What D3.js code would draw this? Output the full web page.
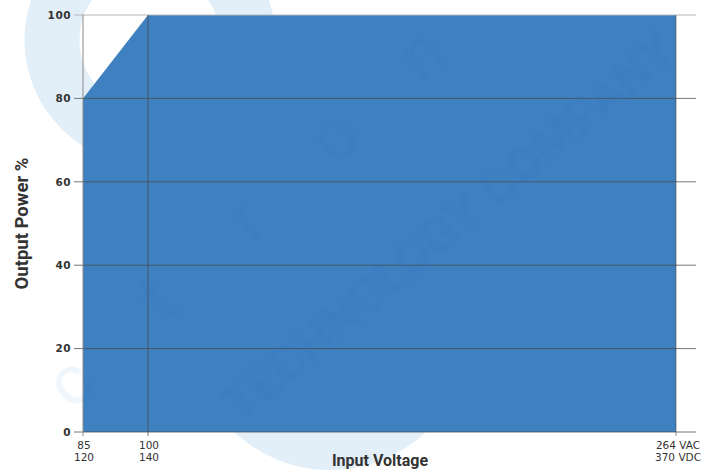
<!DOCTYPE html>
<html>
<head>
<meta charset="utf-8">
<script src="https://cdn.jsdelivr.net/npm/d3@7"></script>
<style>
  body { margin: 0; background: #fff; }
  svg { display: block; }
  .axis text { font-family: "DejaVu Sans", sans-serif; fill: #333; }
</style>
</head>
<body>
<div id="chart"></div>
<script>
// derating curve data
const voltages = [85, 100, 264];
const power = [80, 100, 100];
const yTicks = [0, 20, 40, 60, 80, 100];
const xTickLabels = [["85", "120"], ["100", "140"], ["264 VAC", "370 VDC"]];

const width = 715, height = 472;
const margin = { left: 83, top: 15, right: 39, bottom: 40 };
const plotRight = 676;

const svg = d3.select("#chart").append("svg")
  .attr("width", width)
  .attr("height", height);

// x is not linear in the source, piecewise domain
const x = d3.scaleLinear()
  .domain(voltages)
  .range([margin.left, 148, plotRight]);

const y = d3.scaleLinear()
  .domain([0, 100])
  .range([height - margin.bottom, margin.top]);

const gridRight = width - 19;

// watermark behind
const wm = svg.append("g").attr("class", "watermark");
wm.append("circle")
  .attr("cx", 150).attr("cy", 40).attr("r", 98)
  .attr("fill", "none")
  .attr("stroke", "#e3eff8")
  .attr("stroke-width", 55);
wm.append("circle")
  .attr("cx", 330).attr("cy", 330).attr("r", 120)
  .attr("fill", "none")
  .attr("stroke", "#e3eff8")
  .attr("stroke-width", 40);

// area
const area = d3.area()
  .x((d, i) => x(voltages[i]))
  .y0(y(0))
  .y1(d => y(d));

svg.append("path")
  .datum(power)
  .attr("fill", "#3f80c0")
  .attr("d", area);

// horizontal grid
const grid = svg.append("g").attr("class", "grid");
grid.selectAll("line")
  .data(yTicks)
  .enter().append("line")
    .attr("x1", margin.left - 9)
    .attr("x2", gridRight)
    .attr("y1", d => y(d))
    .attr("y2", d => y(d))
    .attr("stroke", d => d == 100 ? "#b5b5b5" : "#4a4a4a")
    .attr("stroke-opacity", d => d == 100 ? 1 : 0.75)
    .attr("stroke-width", 1);

// vertical lines
svg.append("line")
  .attr("x1", x(85)).attr("x2", x(85))
  .attr("y1", y(100)).attr("y2", y(0) + 4)
  .attr("stroke", "#8a8a8a");
svg.append("line")
  .attr("x1", x(100)).attr("x2", x(100))
  .attr("y1", y(100)).attr("y2", y(0) + 4)
  .attr("stroke", "#4a4a4a").attr("stroke-opacity", 0.75);
svg.append("line")
  .attr("x1", x(264)).attr("x2", x(264))
  .attr("y1", y(100)).attr("y2", y(0) + 4)
  .attr("stroke", "#4a4a4a").attr("stroke-opacity", 0.6);

// y axis labels
const yAxis = d3.axisLeft(y)
  .tickValues(yTicks)
  .tickSize(0)
  .tickPadding(12);
svg.append("g")
  .attr("class", "axis")
  .attr("transform", `translate(${margin.left},0)`)
  .call(yAxis)
  .call(g => g.select(".domain").remove())
  .call(g => g.selectAll("text")
    .attr("font-size", 10.5)
    .attr("font-weight", "bold")
    .attr("letter-spacing", 0.5));

// x axis labels, one text per line
const xg = svg.append("g").attr("class", "axis");
[0, 1].forEach(j => {
  xg.selectAll(".l" + j)
    .data(voltages)
    .enter().append("text")
      .attr("class", "l" + j)
      .attr("x", (d, i) => i == 2 ? x(d) + 2 : x(d) + 1)
      .attr("y", y(0) + 17 + j * 11.5)
      .attr("text-anchor", "middle")
      .attr("font-family", "Liberation Sans, Arial, sans-serif")
      .attr("font-size", 10.5)
      .attr("fill", "#333")
      .text((d, i) => xTickLabels[i][j]);
});

// axis titles
svg.append("text")
  .attr("transform", `translate(28,${(y(0) + y(100)) / 2}) rotate(-90)`)
  .attr("text-anchor", "middle")
  .attr("font-family", "Roboto, sans-serif")
  .attr("font-weight", "bold")
  .attr("font-size", 18.5)
  .attr("fill", "#333")
  .text("Output Power %");

svg.append("text")
  .attr("x", 380)
  .attr("y", 466)
  .attr("text-anchor", "middle")
  .attr("font-family", "Roboto, sans-serif")
  .attr("font-weight", "bold")
  .attr("font-size", 16)
  .attr("fill", "#333")
  .text("Input Voltage");

// watermark over the chart
const wm2 = svg.append("g").attr("class", "watermark-top")
  .attr("opacity", 0.07)
  .attr("fill", "#1a7fd0");
wm2.append("text")
  .attr("transform", "translate(460,240) rotate(-40)")
  .attr("text-anchor", "middle")
  .attr("font-family", "Roboto, sans-serif")
  .attr("font-weight", "bold")
  .attr("font-size", 50)
  .text("TECHNOLOGY COMPANY");
wm2.selectAll(".lt")
  .data(["c", "t", "r", "o", "n"])
  .enter().append("text")
    .attr("transform", (d, i) => `translate(${85 + i * 88},${400 - i * 82}) rotate(-40)`)
    .attr("text-anchor", "middle")
    .attr("font-family", "Roboto, sans-serif")
    .attr("font-size", 70)
    .text(d => d);
</script>
</body>
</html>
